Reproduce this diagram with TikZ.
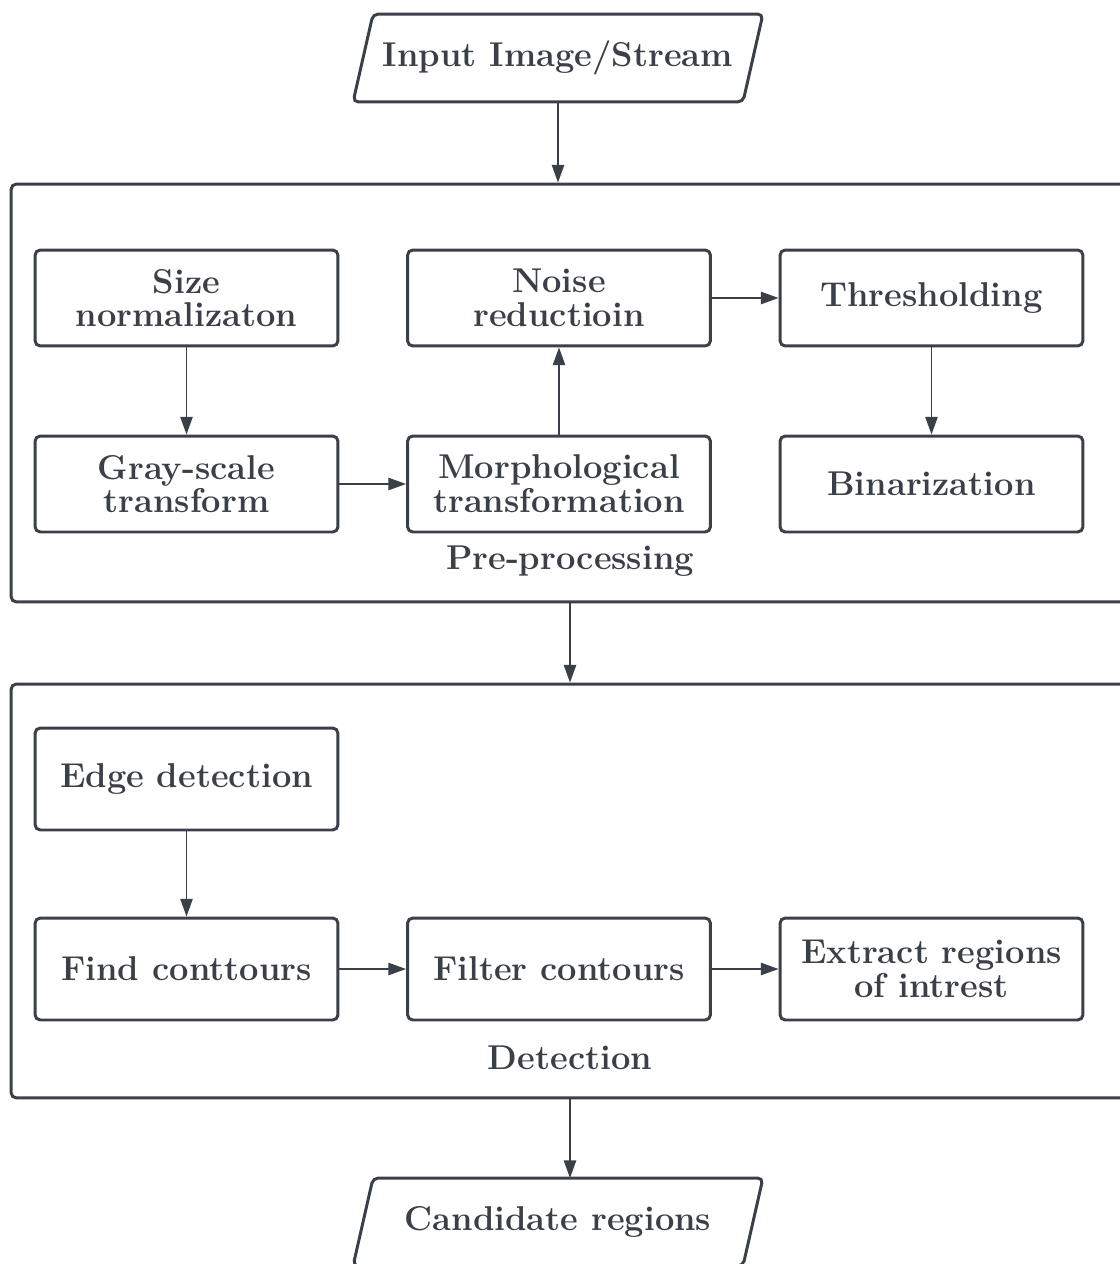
\documentclass[tikz,border=0pt]{standalone}
\usepackage{fontspec}
\usetikzlibrary{arrows.meta}
\definecolor{ink}{HTML}{3A3F48}
\begin{document}
\begin{tikzpicture}[x=0.02cm,y=-0.02cm,
  every node/.style={text=ink, font=\fontsize{19.6}{19.2}\selectfont\bfseries},
  procbox/.style={draw=ink, line width=1.7pt, rounded corners=3pt,
    minimum width=6.06cm, align=center, inner sep=0pt},
  rowA/.style={procbox, minimum height=1.92cm},
  rowB/.style={procbox, minimum height=2.04cm},
  stage/.style={draw=ink, line width=1.7pt, rounded corners=3pt,
    minimum width=22.36cm, inner sep=0pt},
  io/.style={minimum width=7.8cm, minimum height=1.76cm, inner sep=0pt, outer sep=0pt},
  ioframe/.style={draw=ink, line width=1.7pt, rounded corners=3pt},
  caption/.style={inner sep=0pt},
  arr/.style={draw=ink, line width=0.8pt, -{Triangle[length=10pt,width=7pt]}}]
\useasboundingbox (0,0) rectangle (1119,1264);

% input and output (parallelograms slanted by 20 units)
\node[io] (input) at (558,58) {Input Image/Stream};
\node[io] (cand) at (558,1222) {Candidate regions};
\foreach \n in {input,cand}
  \draw[ioframe] ([xshift=-0.2cm]\n.south west) -- ([xshift=0.2cm]\n.north west)
    -- ([xshift=0.2cm]\n.north east) -- ([xshift=-0.2cm]\n.south east) -- cycle;

% stage frames
\node[stage, minimum height=8.36cm] (pre) at (570,393) {};
\node[stage, minimum height=8.28cm] (det) at (570,891) {};
\node[caption] (prelabel) at (570,561) {Pre-processing};
\node[caption] (detlabel) at (570,1058) {Detection};

% pre-processing steps
\node[rowA] (size)   at (186.5,298) {Size\\normalizaton};
\node[rowA] (noise)  at (559,298)   {Noise\\reductioin};
\node[rowA] (thresh) at (931.5,298) {Thresholding};
\node[rowA] (gray)   at (186.5,484) {Gray-scale\\transform};
\node[rowA] (morph)  at (559,484)   {Morphological\\transformation};
\node[rowA] (bin)    at (931.5,484) {Binarization};

% detection steps
\node[rowB] (edge)    at (186.5,779) {Edge detection};
\node[rowB] (find)    at (186.5,969) {Find conttours};
\node[rowB] (filter)  at (559,969)   {Filter contours};
\node[rowB] (extract) at (931.5,969) {Extract regions\\of intrest};

% connectors
\draw[arr] (input) -- (input |- pre.north);
\draw[arr] (pre.south) -- (det.north);
\draw[arr] (det.south) -- (det.south |- cand.north);

\draw[arr] (size) -- (gray);
\draw[arr] (gray) -- (morph);
\draw[arr] (morph) -- (noise);
\draw[arr] (noise) -- (thresh);
\draw[arr] (thresh) -- (bin);

\draw[arr] (edge) -- (find);
\draw[arr] (find) -- (filter);
\draw[arr] (filter) -- (extract);
\end{tikzpicture}
\end{document}
